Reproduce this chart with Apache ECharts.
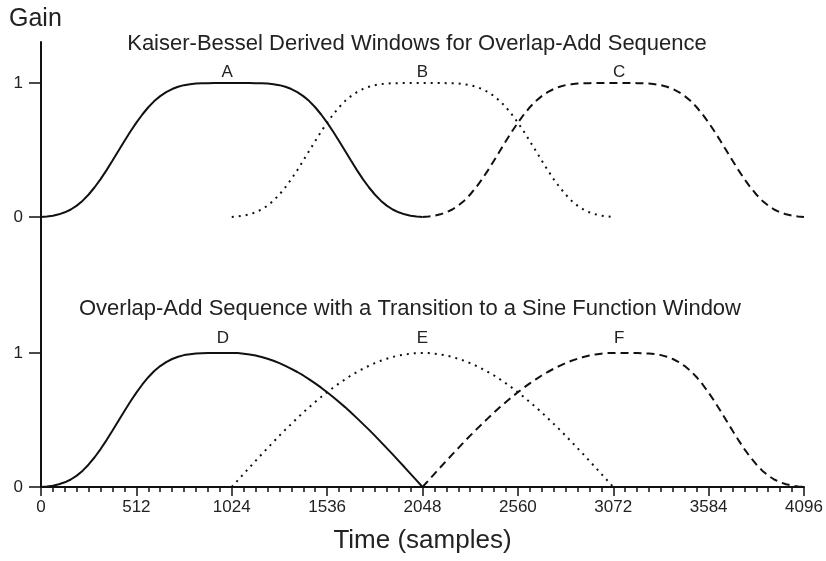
<!DOCTYPE html>
<html>
<head>
<meta charset="utf-8">
<script src="https://cdn.jsdelivr.net/npm/echarts@6/dist/echarts.min.js"></script>
<style>
html,body{margin:0;padding:0;background:#fff;}
#chart{width:826px;height:561px;}
</style>
</head>
<body>
<div id="chart"></div>
<script>
// ---- data ----
const halfSamples = [0,32,64,96,128,160,192,224,256,288,320,352,384,416,448,480,512,544,576,608,640,672,704,736,768,800,832,864,896,928,960,992,1024];
// Kaiser-Bessel derived rising half (gain)
const kbdRise = [0,0.004,0.010,0.020,0.035,0.056,0.085,0.122,0.168,0.222,0.283,0.350,0.421,0.494,0.567,0.638,0.704,0.765,0.819,0.865,0.902,0.932,0.955,0.972,0.984,0.991,0.996,0.998,0.999,1,1,1,1];
// Sine window rising half (gain)
const sineRise = [0,0.049,0.098,0.147,0.195,0.243,0.290,0.337,0.383,0.428,0.471,0.514,0.556,0.596,0.634,0.672,0.707,0.741,0.773,0.803,0.832,0.858,0.882,0.904,0.924,0.942,0.957,0.970,0.981,0.989,0.995,0.999,1];

const windowNames  = ['A','B','C','D','E','F'];
const windowStart  = [0,1024,2048,0,1024,2048];
const risingShape  = ['kbd','kbd','kbd','kbd','sine','sine'];
const fallingShape = ['kbd','kbd','kbd','sine','sine','kbd'];
const windowPanel  = [0,0,0,1,1,1];
const letterX      = [1000,2048,3104,976,2048,3104];
const letterY      = [1,1,1,1,1,1];

const xTicks = [0,512,1024,1536,2048,2560,3072,3584,4096];
const yTicks = [0,1];

const topTitle = 'Kaiser-Bessel Derived Windows for Overlap-Add Sequence';
const bottomTitle = 'Overlap-Add Sequence with a Transition to a Sine Function Window';

// ---- styles ----
const FONT = 'Liberation Sans, Arial, sans-serif';
const INK = '#111';
const lineStyles = [
  {type:'solid', width:2},
  {type:[2,5], width:2},
  {type:[8,5], width:2},
  {type:'solid', width:2},
  {type:[2,5], width:2},
  {type:[8,5], width:2}
];
const shapes = {kbd: kbdRise, sine: sineRise};

function buildWindow(i){
  const start = windowStart[i];
  const rise = shapes[risingShape[i]];
  const fall = shapes[fallingShape[i]];
  const pts = halfSamples.map((s,j)=>[start+s, rise[j]]);
  halfSamples.forEach((s,j)=>{ if(j>0) pts.push([start+1024+s, fall[32-j]]); });
  return pts;
}

const series = windowNames.map((name,i)=>({
  name: name,
  type: 'line',
  xAxisIndex: windowPanel[i],
  yAxisIndex: windowPanel[i],
  data: buildWindow(i),
  showSymbol: false,
  symbol: 'none',
  smooth: false,
  lineStyle: Object.assign({color: INK}, lineStyles[i]),
  z: 3,
  markPoint: {
    symbol: 'circle',
    symbolSize: 0,
    silent: true,
    data: [{coord:[letterX[i], letterY[i]], value: name}],
    label: {
      show: true,
      position: 'top',
      distance: windowPanel[i] === 0 ? 2 : 6,
      formatter: name,
      color: '#222',
      fontSize: 17,
      fontFamily: FONT
    }
  }
}));

const yCommon = {
  type: 'value',
  axisLine: {show:true, onZero:false, lineStyle:{color:INK, width:2}},
  axisTick: {show:true, inside:false, length:12, customValues: yTicks, lineStyle:{color:INK, width:1.5}},
  axisLabel: {show:true, customValues: yTicks, margin:18, fontSize:17, fontFamily:FONT, color:'#222'},
  splitLine: {show:false}
};

const option = {
  backgroundColor: '#fff',
  animation: false,
  title: [
    {text:'Gain', left:9, top:7, padding:0, textStyle:{fontSize:25, fontWeight:'normal', fontFamily:FONT, color:'#222'}},
    {text:topTitle, left:417, top:33, padding:0, textAlign:'center', textStyle:{fontSize:22, fontWeight:'normal', fontFamily:FONT, color:'#222'}},
    {text:bottomTitle, left:410, top:298, padding:0, textAlign:'center', textStyle:{fontSize:22, fontWeight:'normal', fontFamily:FONT, color:'#222'}}
  ],
  grid: [
    {left:41, right:22, top:42, height:228},
    {left:41, right:22, top:270, height:217}
  ],
  xAxis: [
    {type:'value', gridIndex:0, min:0, max:4096, show:false},
    {type:'value', gridIndex:1, min:0, max:4096, interval:512,
     axisLine:{show:true, onZero:false, lineStyle:{color:INK, width:2}},
     axisTick:{show:true, length:9, customValues: xTicks, lineStyle:{color:INK, width:1.5}},
     minorTick:{show:true, splitNumber:8, length:5, lineStyle:{color:INK, width:1.5}},
     axisLabel:{margin:12, fontSize:17, fontFamily:FONT, color:'#222', customValues: xTicks,
                formatter: v => String(v)},
     splitLine:{show:false},
     name:'Time (samples)', nameLocation:'middle', nameGap:41,
     nameTextStyle:{fontSize:26, fontFamily:FONT, color:'#222'}
    }
  ],
  yAxis: [
    Object.assign({}, yCommon, {gridIndex:0, min:-0.3955, max:1.306}),
    Object.assign({}, yCommon, {gridIndex:1, min:0, max:1.619})
  ],
  series: series
};

const chart = echarts.init(document.getElementById('chart'), null, {renderer:'canvas'});
chart.setOption(option);
</script>
</body>
</html>
